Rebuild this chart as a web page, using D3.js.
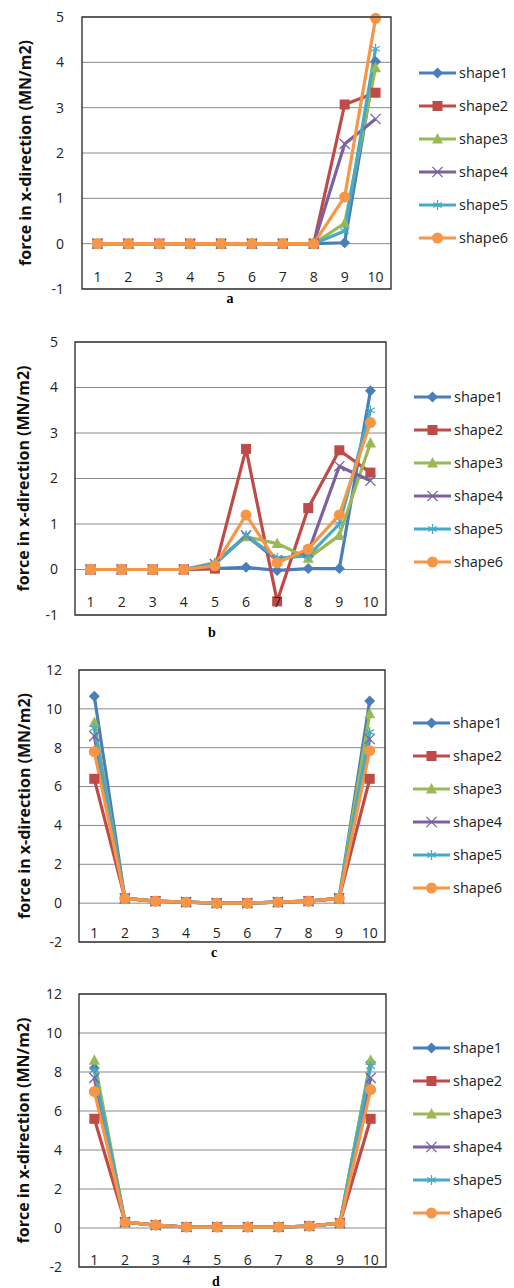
<!DOCTYPE html>
<html>
<head>
<meta charset="utf-8">
<script src="https://cdn.jsdelivr.net/npm/d3@7"></script>
<style>
  body { margin: 0; background: #fff; }
  svg { display: block; }
</style>
</head>
<body>
<div id="chart"></div>
<script>
// four stacked line charts (a-d), force in x-direction for 6 shapes

const categories = ["1", "2", "3", "4", "5", "6", "7", "8", "9", "10"];
const seriesNames = ["shape1", "shape2", "shape3", "shape4", "shape5", "shape6"];
const ticksAB = [-1, 0, 1, 2, 3, 4, 5];
const ticksCD = [-2, 0, 2, 4, 6, 8, 10, 12];

// one row per shape, one value per category
const valuesA = [
  [0, 0, 0, 0, 0, 0, 0, 0, 0.02, 4.02],
  [0, 0, 0, 0, 0, 0, 0, 0, 3.07, 3.33],
  [0, 0, 0, 0, 0, 0, 0, 0, 0.45, 3.88],
  [0, 0, 0, 0, 0, 0, 0, 0, 2.2, 2.75],
  [0, 0, 0, 0, 0, 0, 0, 0, 0.28, 4.3],
  [0, 0, 0, 0, 0, 0, 0, 0, 1.03, 4.97]
];
const valuesB = [
  [0, 0, 0, 0, 0.02, 0.05, -0.02, 0.02, 0.02, 3.93],
  [0, 0, 0, 0, 0.02, 2.65, -0.7, 1.35, 2.62, 2.13],
  [0, 0, 0, 0, 0.15, 0.72, 0.57, 0.25, 0.75, 2.78],
  [0, 0, 0, 0, 0.12, 0.75, 0.2, 0.38, 2.27, 1.95],
  [0, 0, 0, 0, 0.12, 0.75, 0.25, 0.3, 1.0, 3.5],
  [0, 0, 0, 0, 0.08, 1.2, 0.15, 0.45, 1.2, 3.23]
];
const valuesC = [
  [10.65, 0.25, 0.1, 0.05, 0, 0, 0.05, 0.1, 0.25, 10.4],
  [6.4, 0.25, 0.1, 0.05, 0, 0, 0.05, 0.1, 0.25, 6.4],
  [9.3, 0.25, 0.1, 0.05, 0, 0, 0.05, 0.1, 0.25, 9.75],
  [8.6, 0.25, 0.1, 0.05, 0, 0, 0.05, 0.1, 0.25, 8.45],
  [9.0, 0.25, 0.1, 0.05, 0, 0, 0.05, 0.1, 0.25, 8.8],
  [7.8, 0.25, 0.1, 0.05, 0, 0, 0.05, 0.1, 0.25, 7.85]
];
const valuesD = [
  [8.2, 0.3, 0.15, 0.05, 0.05, 0.05, 0.05, 0.1, 0.25, 8.5],
  [5.6, 0.3, 0.15, 0.05, 0.05, 0.05, 0.05, 0.1, 0.25, 5.6],
  [8.6, 0.3, 0.15, 0.05, 0.05, 0.05, 0.05, 0.1, 0.25, 8.6],
  [7.7, 0.3, 0.15, 0.05, 0.05, 0.05, 0.05, 0.1, 0.25, 7.7],
  [8.1, 0.3, 0.15, 0.05, 0.05, 0.05, 0.05, 0.1, 0.25, 8.3],
  [7.0, 0.3, 0.15, 0.05, 0.05, 0.05, 0.05, 0.1, 0.25, 7.1]
];

const colors = ["#4a7ebb", "#be4b48", "#98b954", "#7d60a0", "#46aac5", "#f79646"];
const markers = ["diamond", "square", "triangle", "times", "asterisk", "circle"];

const width = 514, height = 1288;

const panels = [
  { values: valuesA, ticks: ticksAB, label: "a", left: 82, right: 391, top: 17, bottom: 289,
    tickX: 64, titleX: 25, catY: 282, subY: 303, subX: 230, legX: 419, legY: 73 },
  { values: valuesB, ticks: ticksAB, label: "b", left: 75, right: 386, top: 342, bottom: 615,
    tickX: 58, titleX: 23, catY: 607, subY: 637, subX: 212, legX: 414, legY: 397 },
  { values: valuesC, ticks: ticksCD, label: "c", left: 79, right: 385, top: 670, bottom: 942,
    tickX: 62, titleX: 24, catY: 938, subY: 957, subX: 214, legX: 413, legY: 723 },
  { values: valuesD, ticks: ticksCD, label: "d", left: 79, right: 386, top: 994, bottom: 1267,
    tickX: 62, titleX: 23, catY: 1265, subY: 1286, subX: 216, legX: 413, legY: 1048 }
];

const svg = d3.select("#chart").append("svg")
  .attr("width", width)
  .attr("height", height);

function drawMarker(g, type, color) {
  if (type === "diamond") {
    g.append("path").attr("d", "M0,-5.5L5.5,0L0,5.5L-5.5,0Z").attr("fill", color);
  } else if (type === "square") {
    g.append("rect").attr("x", -5).attr("y", -5).attr("width", 10).attr("height", 10).attr("fill", color);
  } else if (type === "triangle") {
    g.append("path").attr("d", "M0,-6L5.5,4.5L-5.5,4.5Z").attr("fill", color);
  } else if (type === "circle") {
    g.append("circle").attr("r", 5.5).attr("fill", color);
  } else {
    const sym = type === "times" ? d3.symbolTimes : d3.symbolAsterisk;
    g.append("path").attr("d", d3.symbol().type(sym).size(70)())
      .attr("fill", "none").attr("stroke", color).attr("stroke-width", 1.3);
  }
}

panels.forEach(p => {
  const x = d3.scaleBand().domain(categories).range([p.left, p.right]);
  const y = d3.scaleLinear().domain([p.ticks[0], p.ticks[p.ticks.length - 1]]).range([p.bottom, p.top]);
  const cx = c => x(c) + x.bandwidth() / 2;

  const g = svg.append("g");

  // gridlines
  g.append("g")
    .selectAll("line")
    .data(p.ticks)
    .join("line")
    .attr("x1", p.left).attr("x2", p.right)
    .attr("y1", d => y(d)).attr("y2", d => y(d))
    .attr("stroke", "#8a8a8a")
    .attr("stroke-width", 1);

  // y tick labels
  g.append("g")
    .attr("font-family", "'Open Sans', sans-serif")
    .attr("font-size", 14)
    .attr("fill", "#222")
    .attr("text-anchor", "end")
    .selectAll("text")
    .data(p.ticks)
    .join("text")
    .attr("x", p.tickX)
    .attr("y", d => y(d))
    .attr("dy", "0.35em")
    .text(d => d);

  // axis title
  g.append("text")
    .attr("transform", `translate(${p.titleX},${(p.top + p.bottom) / 2}) rotate(-90)`)
    .attr("text-anchor", "middle")
    .attr("dy", "0.35em")
    .attr("font-family", "'Open Sans', sans-serif")
    .attr("font-weight", "bold")
    .attr("font-size", 16)
    .attr("fill", "#111")
    .text("force in x-direction (MN/m2)");

  // series lines
  const line = d3.line().x((d, i) => cx(categories[i])).y(d => y(d));
  g.append("g")
    .selectAll("path")
    .data(p.values)
    .join("path")
    .attr("d", line)
    .attr("fill", "none")
    .attr("stroke", (d, i) => colors[i])
    .attr("stroke-width", 3.2)
    .attr("stroke-linejoin", "round");

  // markers
  p.values.forEach((vals, si) => {
    vals.forEach((v, i) => {
      const m = g.append("g").attr("transform", `translate(${cx(categories[i])},${y(v)})`);
      drawMarker(m, markers[si], colors[si]);
    });
  });

  // category labels inside the plot
  g.append("g")
    .attr("font-family", "'Open Sans', sans-serif")
    .attr("font-size", 14)
    .attr("fill", "#222")
    .attr("text-anchor", "middle")
    .selectAll("text")
    .data(categories)
    .join("text")
    .attr("x", d => cx(d))
    .attr("y", p.catY)
    .text(d => d);

  // plot frame
  g.append("rect")
    .attr("x", p.left).attr("y", p.top)
    .attr("width", p.right - p.left).attr("height", p.bottom - p.top)
    .attr("fill", "none")
    .attr("stroke", "#333")
    .attr("stroke-width", 1.4);

  // panel letter
  g.append("text")
    .attr("x", p.subX).attr("y", p.subY)
    .attr("text-anchor", "middle")
    .attr("font-family", "'Liberation Serif', serif")
    .attr("font-weight", "bold")
    .attr("font-size", 14)
    .text(p.label);

  // legend
  const leg = g.append("g")
    .selectAll("g")
    .data(seriesNames)
    .join("g")
    .attr("transform", (d, i) => `translate(${p.legX},${p.legY + i * 33})`);

  leg.append("line")
    .attr("x1", 0).attr("x2", 37)
    .attr("stroke", (d, i) => colors[i])
    .attr("stroke-width", 3);

  leg.each(function(d, i) {
    const m = d3.select(this).append("g").attr("transform", "translate(18.5,0)");
    drawMarker(m, markers[i], colors[i]);
  });

  leg.append("text")
    .attr("x", 40)
    .attr("dy", "0.35em")
    .attr("font-family", "'Open Sans', sans-serif")
    .attr("font-size", 14.5)
    .attr("fill", "#222")
    .text(d => d);
});
</script>
</body>
</html>
